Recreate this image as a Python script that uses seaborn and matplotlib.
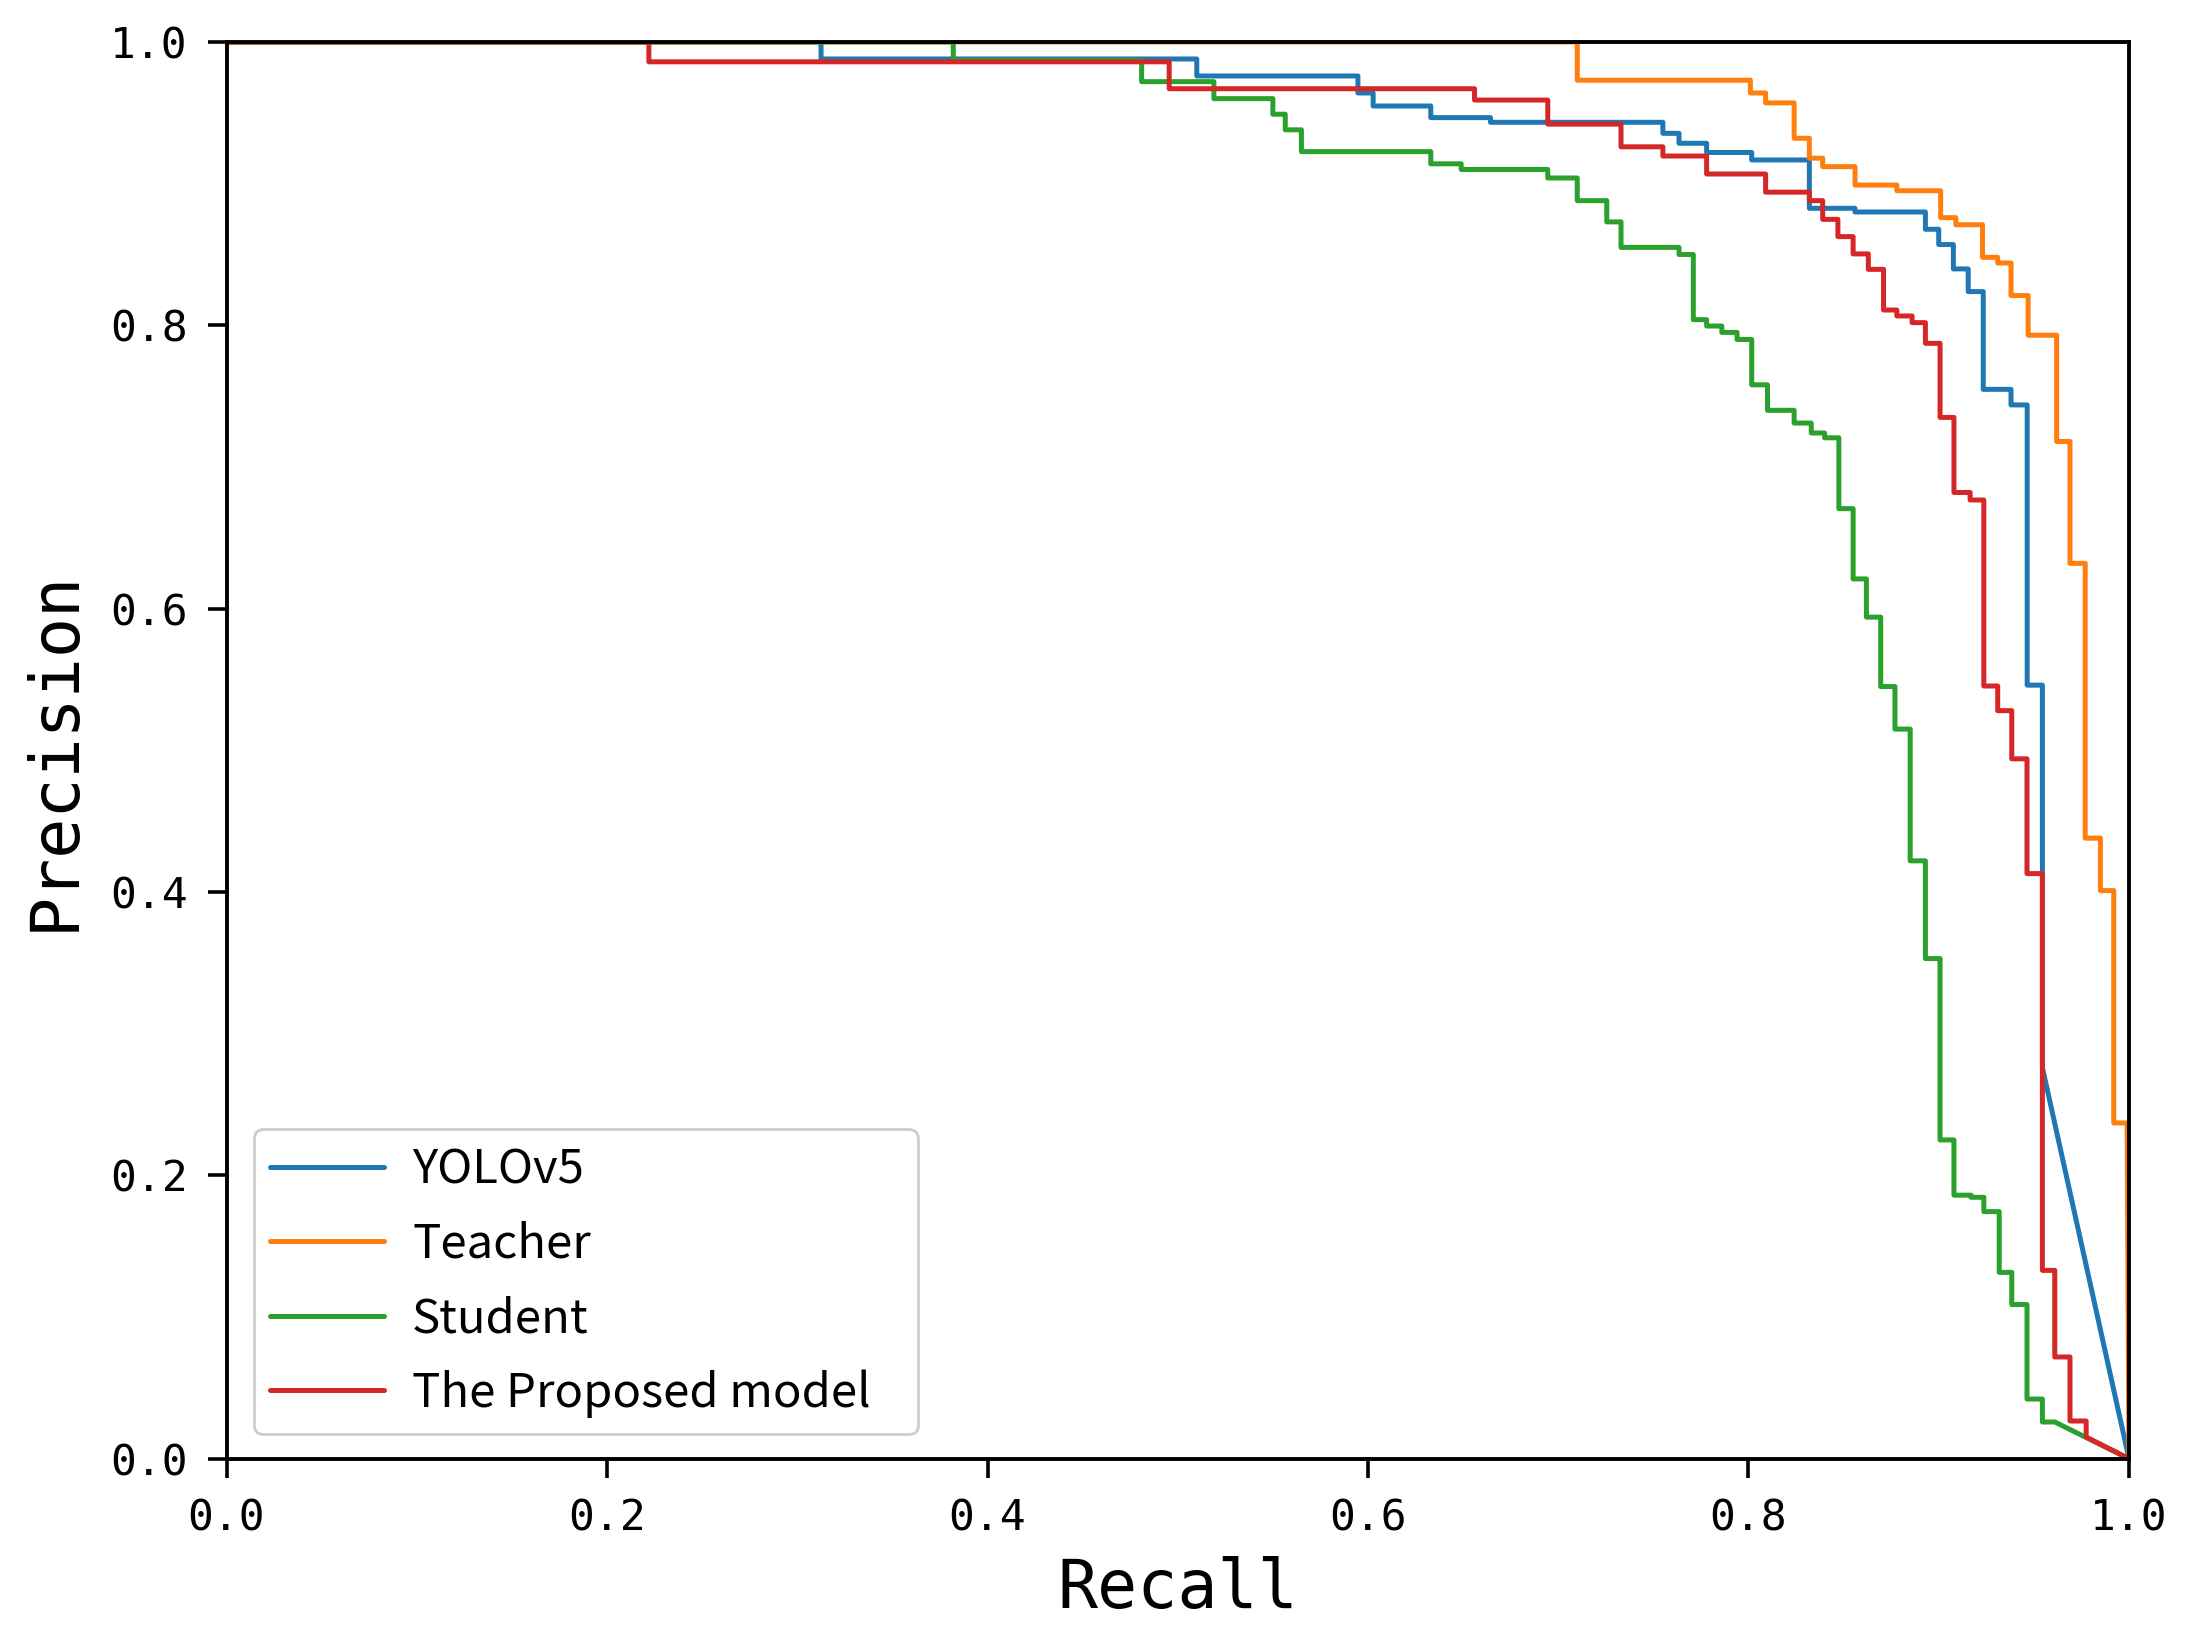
import pandas as pd
import seaborn as sns
import matplotlib.pyplot as plt

models = ["YOLOv5", "Teacher", "Student", "The Proposed model"]

# recall where each precision level starts, and the level itself
yolo_recall = [0.3125, 0.510, 0.5947, 0.6027, 0.633, 0.6644, 0.755, 0.7635, 0.778, 0.8017,
               0.832, 0.856, 0.893, 0.900, 0.9077, 0.9155, 0.9234, 0.938, 0.9465, 0.9545]
yolo_prec = [0.988, 0.976, 0.964, 0.9548, 0.9466, 0.9433, 0.9355, 0.9285, 0.922, 0.9167,
             0.8826, 0.880, 0.8678, 0.857, 0.8398, 0.8238, 0.7548, 0.7438, 0.546, 0.276]
yolo_end = 0.9545

teacher_recall = [0.710, 0.801, 0.809, 0.824, 0.832, 0.839, 0.856, 0.878, 0.901, 0.909,
                  0.923, 0.931, 0.938, 0.947, 0.962, 0.969, 0.977, 0.985, 0.992]
teacher_prec = [0.973, 0.964, 0.957, 0.932, 0.918, 0.912, 0.899, 0.895, 0.876, 0.871,
                0.848, 0.844, 0.821, 0.793, 0.718, 0.632, 0.438, 0.401, 0.237]
teacher_end = 0.999

student_recall = [0.382, 0.481, 0.519, 0.550, 0.5565, 0.565, 0.633, 0.649, 0.6945, 0.710,
                  0.7255, 0.733, 0.7635, 0.771, 0.778, 0.786, 0.794, 0.8017, 0.810, 0.824,
                  0.833, 0.840, 0.8475, 0.855, 0.862, 0.8695, 0.877, 0.885, 0.893, 0.9007,
                  0.908, 0.917, 0.9237, 0.9318, 0.9384, 0.9464, 0.9545]
student_prec = [0.987, 0.972, 0.960, 0.949, 0.938, 0.9226, 0.914, 0.910, 0.904, 0.888,
                0.873, 0.855, 0.850, 0.804, 0.7995, 0.795, 0.790, 0.758, 0.740, 0.731,
                0.724, 0.7206, 0.6706, 0.621, 0.594, 0.545, 0.515, 0.422, 0.353, 0.225,
                0.186, 0.1845, 0.1744, 0.1315, 0.1088, 0.0421, 0.0259]
student_end = 0.961

proposed_recall = [0.222, 0.4955, 0.656, 0.6945, 0.733, 0.755, 0.778, 0.809, 0.832, 0.839,
                   0.847, 0.855, 0.863, 0.871, 0.878, 0.886, 0.893, 0.9007, 0.908, 0.9165,
                   0.9237, 0.931, 0.9384, 0.9464, 0.9545, 0.961, 0.969, 0.9775]
proposed_prec = [0.986, 0.967, 0.959, 0.942, 0.926, 0.9195, 0.9068, 0.894, 0.888, 0.8748,
                 0.8626, 0.8504, 0.8395, 0.8108, 0.8066, 0.8019, 0.7873, 0.735, 0.682, 0.6767,
                 0.5454, 0.528, 0.494, 0.413, 0.1329, 0.0718, 0.0266, 0.0153]
proposed_end = 0.9775


def pr_curve(name, recall, prec, end):
    # staircase PR curve, closed with a straight line to (1, 0)
    xs, ys = [0.0], [1.0]
    for r, p in zip(recall, prec):
        xs += [r, r]
        ys += [ys[-1], p]
    xs += [end, 1.0]
    ys += [ys[-1], 0.0]
    return pd.DataFrame({"recall": xs, "precision": ys, "model": name})


data = pd.concat([
    pr_curve(models[0], yolo_recall, yolo_prec, yolo_end),
    pr_curve(models[1], teacher_recall, teacher_prec, teacher_end),
    pr_curve(models[2], student_recall, student_prec, student_end),
    pr_curve(models[3], proposed_recall, proposed_prec, proposed_end),
], ignore_index=True)

sns.set_style("ticks")
plt.rcParams["font.family"] = ["DejaVu Sans Mono", "DejaVu Sans"]
plt.rcParams["axes.linewidth"] = 1.4
plt.rcParams["text.color"] = "black"
plt.rcParams["axes.labelcolor"] = "black"

fig = plt.figure(figsize=(10.965, 8.23), dpi=200)
ax = fig.add_axes([0.1033, 0.1138, 0.8675, 0.8607])
sns.lineplot(data=data, x="recall", y="precision", hue="model", hue_order=models,
             palette=["#1f77b4", "#ff7f0e", "#2ca02c", "#d62728"],
             sort=False, estimator=None, linewidth=1.8, ax=ax)

ax.set_xlim(0, 1)
ax.set_ylim(0, 1)
ax.set_xticks([0, 0.2, 0.4, 0.6, 0.8, 1.0])
ax.set_yticks([0, 0.2, 0.4, 0.6, 0.8, 1.0])
ax.tick_params(labelsize=15.5, length=7, width=1.3, pad=7, colors="black")
for s in ax.spines.values():
    s.set_visible(True)
    s.set_color("black")
ax.set_xlabel("Recall", fontsize=24, labelpad=6)
ax.set_ylabel("Precision", fontsize=24, labelpad=8)

ax.legend(loc="lower left", bbox_to_anchor=(0.0144, 0.0174, 0.349, 0.223), mode="expand",
          borderaxespad=0, prop={"family": ["Noto Sans CJK SC", "DejaVu Sans"], "size": 17},
          handlelength=2.4, handletextpad=0.6, labelspacing=0.55,
          borderpad=0.35, fancybox=True, edgecolor="0.8", framealpha=1)

fig.savefig("out.png", dpi=200)
